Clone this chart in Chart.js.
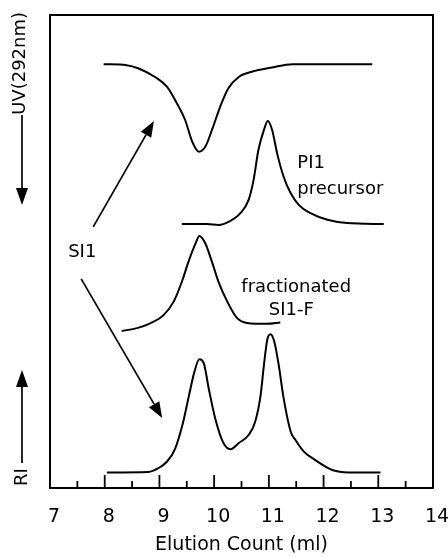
<!DOCTYPE html>
<html>
<head>
<meta charset="utf-8">
<script src="https://cdn.jsdelivr.net/npm/chart.js@4"></script>
<style>
    html, body { margin: 0; padding: 0; background: #fff; }
    #wrap { width: 448px; height: 557px; }
</style>
</head>
<body>
<div id="wrap"><canvas id="myChart"></canvas></div>
<script>
// UV(292nm) trace of SI1 (negative peak)
const uvX = [7.98, 8.40, 8.62, 8.92, 9.14, 9.32, 9.47, 9.60, 9.72, 9.84, 9.96, 10.11, 10.26, 10.45, 10.69, 11.06, 11.43, 12.89];
const uvY = [89.6, 89.4, 88.7, 86.9, 84.8, 81.3, 77.8, 73.2, 71.1, 72.2, 75.7, 80.6, 84.5, 86.9, 88.0, 88.9, 89.6, 89.6];

// PI1 precursor
const piX = [9.41, 9.87, 10.08, 10.27, 10.48, 10.63, 10.72, 10.81, 10.91, 10.98, 11.06, 11.15, 11.27, 11.40, 11.55, 11.76, 12.07, 12.43, 13.10];
const piY = [55.8, 55.8, 55.6, 56.3, 58.1, 60.9, 65.1, 71.5, 75.7, 77.6, 75.7, 70.8, 65.8, 62.3, 59.8, 58.1, 56.7, 56.0, 55.8];

// fractionated SI1-F
const frX = [8.31, 8.59, 8.83, 9.08, 9.26, 9.41, 9.53, 9.66, 9.73, 9.84, 9.96, 10.08, 10.24, 10.42, 10.60, 10.97, 11.21];
const frY = [33.2, 33.8, 34.8, 36.6, 39.4, 43.6, 47.8, 51.7, 53.3, 51.7, 47.8, 43.6, 39.4, 35.9, 34.9, 34.7, 35.0];

// RI trace of SI1
const riX = [8.04, 8.80, 8.98, 9.14, 9.29, 9.42, 9.53, 9.64, 9.73, 9.81, 9.90, 10.02, 10.17, 10.30, 10.45, 10.63, 10.75, 10.85, 10.91, 10.97, 11.03, 11.10, 11.18, 11.27, 11.40, 11.49, 11.64, 11.85, 12.16, 12.46, 13.04];
const riY = [3.3, 3.4, 4.2, 5.6, 8.4, 13.3, 19.0, 24.6, 27.2, 26.4, 21.1, 14.7, 9.5, 8.2, 9.5, 11.2, 14.0, 19.7, 26.0, 31.3, 32.5, 30.9, 26.0, 19.0, 11.9, 10.1, 7.7, 5.9, 3.8, 3.3, 3.3];

const xTicks = [7, 8, 9, 10, 11, 12, 13, 14];
const FONT = '"DejaVu Sans", Verdana, sans-serif';

function pts(xs, ys) {
    return xs.map(function (x, i) { return { x: x, y: ys[i] }; });
}

function arrow(ctx, x1, y1, x2, y2, head, half) {
    const ang = Math.atan2(y2 - y1, x2 - x1);
    const bx = x2 - head * Math.cos(ang), by = y2 - head * Math.sin(ang);
    ctx.beginPath();
    ctx.moveTo(x1, y1);
    ctx.lineTo(bx, by);
    ctx.stroke();
    ctx.beginPath();
    ctx.moveTo(x2, y2);
    ctx.lineTo(bx + half * Math.sin(ang), by - half * Math.cos(ang));
    ctx.lineTo(bx - half * Math.sin(ang), by + half * Math.cos(ang));
    ctx.closePath();
    ctx.fill();
}

const decor = {
    id: 'decor',
    afterDraw: function (chart) {
        const ctx = chart.ctx, a = chart.chartArea;
        const xs = chart.scales.x, ys = chart.scales.y;
        const X = function (v) { return xs.getPixelForValue(v); };
        const Y = function (v) { return ys.getPixelForValue(v); };
        ctx.save();
        ctx.strokeStyle = '#000';
        ctx.fillStyle = '#000';

        // frame
        ctx.lineWidth = 2;
        ctx.strokeRect(a.left, a.top, a.right - a.left, a.bottom - a.top);

        // inward ticks
        ctx.lineWidth = 1.8;
        for (let v = 7; v <= 14; v += 0.5) {
            const len = Number.isInteger(v) ? 13 : 7;
            ctx.beginPath();
            ctx.moveTo(X(v), a.bottom);
            ctx.lineTo(X(v), a.bottom - len);
            ctx.stroke();
        }

        // SI1 arrows
        ctx.lineWidth = 1.7;
        arrow(ctx, X(7.79), Y(55.2), X(8.90), Y(77.6), 16, 6);
        arrow(ctx, X(7.57), Y(44.2), X(9.05), Y(14.8), 16, 6);

        // labels
        ctx.font = '18px ' + FONT;
        ctx.textBaseline = 'middle';
        ctx.textAlign = 'center';
        ctx.fillText('SI1', X(7.59), Y(49.9));
        ctx.textAlign = 'left';
        ctx.fillText('PI1', X(11.52), Y(68.7));
        ctx.fillText('precursor', X(11.52), Y(63.2));
        ctx.textAlign = 'center';
        ctx.fillText('fractionated', X(11.50), Y(42.5));
        ctx.fillText('SI1-F', X(11.41), Y(37.6));

        // left side detector labels
        const lx = a.left - 28;
        ctx.save();
        ctx.translate(lx - 2, a.top - 3);
        ctx.rotate(-Math.PI / 2);
        ctx.textAlign = 'right';
        ctx.fillText('UV(292nm)', 0, 0);
        ctx.restore();
        arrow(ctx, lx, a.top + 100, lx, a.top + 190, 17, 6);

        ctx.save();
        ctx.translate(lx, a.bottom - 2);
        ctx.rotate(-Math.PI / 2);
        ctx.textAlign = 'left';
        ctx.fillText('RI', 0, 0);
        ctx.restore();
        arrow(ctx, lx, a.bottom - 25, lx, a.bottom - 118, 17, 6);

        ctx.restore();
    }
};

function trace(xs, ys) {
    return {
        data: pts(xs, ys),
        borderColor: '#000',
        borderWidth: 2,
        pointRadius: 0,
        cubicInterpolationMode: 'monotone',
        fill: false
    };
}

document.addEventListener('DOMContentLoaded', function () {
    const ctx1 = document.getElementById('myChart');

    new Chart(ctx1, {
        type: 'line',
        data: {
            datasets: [trace(uvX, uvY), trace(piX, piY), trace(frX, frY), trace(riX, riY)]
        },
        options: {
            responsive: true,
            maintainAspectRatio: false,
            animation: false,
            layout: {
                padding: { left: 50, right: 15, top: 15, bottom: 0 }
            },
            scales: {
                x: {
                    type: 'linear',
                    min: 7,
                    max: 14,
                    afterBuildTicks: function (scale) {
                        scale.ticks = xTicks.map(function (v) { return { value: v }; });
                    },
                    afterFit: function (scale) {
                        scale.height = 69;
                        scale.paddingLeft = 0;
                        scale.paddingRight = 0;
                    },
                    grid: { display: false, drawTicks: false },
                    border: { display: false },
                    ticks: {
                        color: '#000',
                        padding: 18,
                        labelOffset: 4,
                        maxRotation: 0,
                        font: { family: FONT, size: 19 }
                    },
                    title: {
                        display: true,
                        text: 'Elution Count (ml)',
                        color: '#000',
                        padding: { top: 0, bottom: 1 },
                        font: { family: FONT, size: 19 }
                    }
                },
                y: {
                    display: false,
                    min: 0,
                    max: 100
                }
            },
            plugins: {
                legend: { display: false },
                tooltip: { enabled: false }
            }
        },
        plugins: [decor]
    });
});
</script>
</body>
</html>
